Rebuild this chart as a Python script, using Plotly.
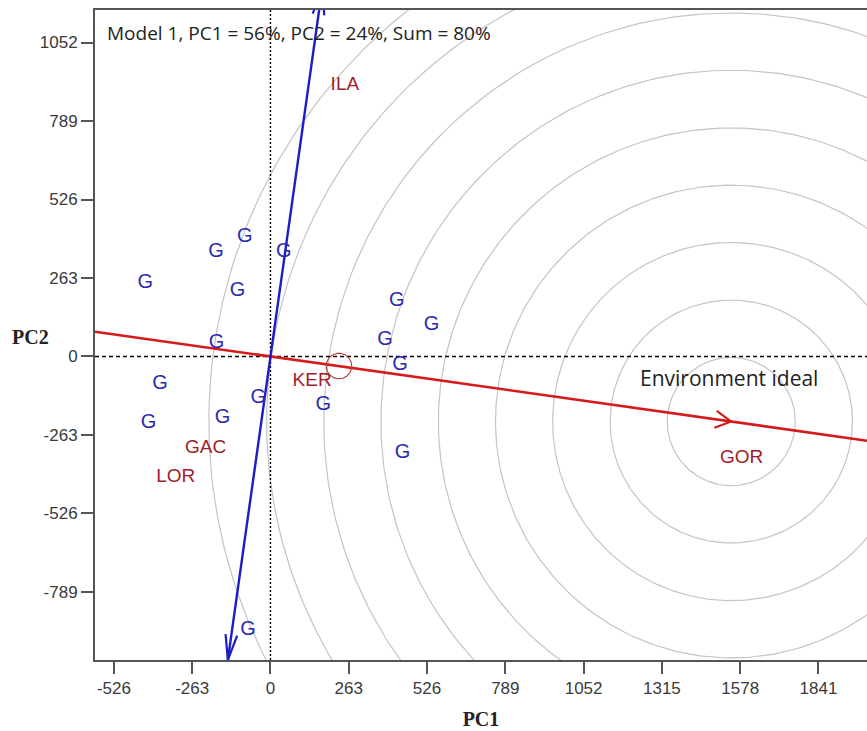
import numpy as np
import plotly.graph_objects as go

# ---- biplot data -------------------------------------------------------
# genotype scores (PC1, PC2)
GEN_X = [-421, -183, -86, 45, -111, -181, -371, -410, -161, -41, 177,
         424, 541, 385, 435, 444, -75]
GEN_Y = [245, 351, 401, 351, 219, 44, -92, -222, -207, -140, -162,
         186, 106, 55, -28, -322, -916]

# environment labels (PC1, PC2)
ENV_NAMES = ["ILA", "KER", "GAC", "LOR", "GOR"]
ENV_X = [250, 140, -218, -318, 1583]
ENV_Y = [909, -82, -308, -403, -341]

# ideal environment and concentric distance rings around it
IDEAL_X, IDEAL_Y = 1548, -218
RING_RADII = [215, 407, 600, 792, 984, 1177, 1369, 1561, 1755]

# average-environment marker circle
AVG_ENV_X, AVG_ENV_Y, AVG_ENV_R = 230, -32, 43

# extent of the ordinate (perpendicular) line
ORD_TOP_Y, ORD_BOTTOM_Y = 1230, -1017

X_TICKS = [-526, -263, 0, 263, 526, 789, 1052, 1315, 1578, 1841]
Y_TICKS = [-789, -526, -263, 0, 263, 526, 789, 1052]

X_RANGE = [-589.5, 2004]
Y_RANGE = [-1017, 1161]

TITLE = "Model 1, PC1 = 56%, PC2 = 24%, Sum = 80%"

# ---- layout geometry ---------------------------------------------------
W, H = 867, 731
M_L, M_R, M_T, M_B = 95, 0, 10, 71
SX = (W - M_L - M_R) / (X_RANGE[1] - X_RANGE[0])   # px per unit
SY = (H - M_T - M_B) / (Y_RANGE[1] - Y_RANGE[0])

GEN_COLOR = "#2b2bb0"
ENV_COLOR = "#a01c28"
RED = "#d41a1a"
BLUE = "#1c1cc8"
RING = "#c4c4c4"


def chevron(tip_x, tip_y, dir_x, dir_y, length_px, half_angle_deg):
    """Open arrowhead at (tip_x, tip_y) pointing along (dir_x, dir_y)."""
    px, py = dir_x * SX, dir_y * SY
    n = np.hypot(px, py)
    px, py = px / n, py / n
    xs, ys = [], []
    for s in (1, -1):
        a = np.radians(s * half_angle_deg)
        rx = px * np.cos(a) - py * np.sin(a)
        ry = px * np.sin(a) + py * np.cos(a)
        xs.append(tip_x - length_px * rx / SX)
        ys.append(tip_y - length_px * ry / SY)
    return [xs[0], tip_x, xs[1]], [ys[0], tip_y, ys[1]]


fig = go.Figure()

# concentric rings
theta = np.linspace(0, 2 * np.pi, 361)
for r in RING_RADII:
    fig.add_trace(go.Scatter(
        x=IDEAL_X + r * np.cos(theta), y=IDEAL_Y + r * np.sin(theta),
        mode="lines", line=dict(color=RING, width=1.2),
        hoverinfo="skip", showlegend=False))

# axes through the origin
fig.add_trace(go.Scatter(x=[0, 0], y=Y_RANGE, mode="lines",
                         line=dict(color="black", width=1.4, dash="2px,2px"),
                         hoverinfo="skip", showlegend=False))
fig.add_trace(go.Scatter(x=X_RANGE, y=[0, 0], mode="lines",
                         line=dict(color="black", width=1.4, dash="4px,3px"),
                         hoverinfo="skip", showlegend=False))

# average environment axis (through origin and the ideal environment)
slope = IDEAL_Y / IDEAL_X
fig.add_trace(go.Scatter(x=X_RANGE, y=[slope * X_RANGE[0], slope * X_RANGE[1]],
                         mode="lines", line=dict(color=RED, width=2.6),
                         hoverinfo="skip", showlegend=False))
cx, cy = chevron(IDEAL_X, IDEAL_Y, IDEAL_X, IDEAL_Y, 18, 28)
fig.add_trace(go.Scatter(x=cx, y=cy, mode="lines",
                         line=dict(color=RED, width=2.2),
                         hoverinfo="skip", showlegend=False))

# perpendicular ordinate line with arrowheads at both ends
k = -slope  # dx/dy along the perpendicular
top = (k * ORD_TOP_Y, ORD_TOP_Y)
bot = (k * ORD_BOTTOM_Y, ORD_BOTTOM_Y)
fig.add_trace(go.Scatter(x=[bot[0], top[0]], y=[bot[1], top[1]], mode="lines",
                         line=dict(color=BLUE, width=2.4),
                         hoverinfo="skip", showlegend=False))
for tx, ty in (top, bot):
    hx, hy = chevron(tx, ty, tx, ty, 26, 13)
    fig.add_trace(go.Scatter(x=hx, y=hy, mode="lines",
                             line=dict(color=BLUE, width=2.2),
                             hoverinfo="skip", showlegend=False))

# average environment circle
fig.add_trace(go.Scatter(
    x=AVG_ENV_X + AVG_ENV_R * np.cos(theta),
    y=AVG_ENV_Y + AVG_ENV_R * np.sin(theta) * SX / SY,
    mode="lines", line=dict(color="#b03838", width=1.1),
    hoverinfo="skip", showlegend=False))

# genotypes
fig.add_trace(go.Scatter(
    x=GEN_X, y=GEN_Y, mode="text", text=["G"] * len(GEN_X),
    textfont=dict(family="Liberation Sans, Arial", size=20, color=GEN_COLOR),
    hoverinfo="skip", showlegend=False))

# environments
fig.add_trace(go.Scatter(
    x=ENV_X, y=ENV_Y, mode="text", text=ENV_NAMES,
    textfont=dict(family="Liberation Sans, Arial", size=19, color=ENV_COLOR),
    hoverinfo="skip", showlegend=False))

fig.add_annotation(x=1540, y=-72, xref="x", yref="y", text="Environment ideal",
                   showarrow=False,
                   font=dict(family="Open Sans", size=21, color="#222222"))

fig.add_annotation(x=(105 - M_L) / (W - M_L - M_R), y=0.965,
                   xref="paper", yref="paper", xanchor="left", yanchor="middle",
                   text=TITLE, showarrow=False,
                   font=dict(family="Open Sans", size=19, color="#222222"))

fig.add_annotation(x=-65 / (W - M_L - M_R), y=(660 - 337) / (H - M_T - M_B),
                   xref="paper", yref="paper", xanchor="center", yanchor="middle",
                   text="<b>PC2</b>", showarrow=False,
                   font=dict(family="Liberation Serif", size=20, color="#222222"))

axis_common = dict(
    showgrid=False, zeroline=False, showline=True, linecolor="#555555",
    linewidth=2, ticks="outside", ticklen=12, tickwidth=1.5,
    tickcolor="#555555",
    tickfont=dict(family="Liberation Sans, Arial", size=17, color="#3a3a3a"),
)

fig.update_xaxes(range=X_RANGE, tickvals=X_TICKS,
                 ticktext=[str(v) for v in X_TICKS], mirror=True,
                 title=dict(text="<b>PC1</b>", standoff=15,
                            font=dict(family="Liberation Serif", size=20,
                                      color="#222222")),
                 **axis_common)
fig.update_yaxes(range=Y_RANGE, tickvals=Y_TICKS,
                 ticktext=[str(v) for v in Y_TICKS], mirror=False,
                 **axis_common)

fig.update_layout(
    width=W, height=H,
    margin=dict(l=M_L, r=M_R, t=M_T, b=M_B),
    plot_bgcolor="white", paper_bgcolor="white",
    showlegend=False,
)

fig.write_html("out.html")
